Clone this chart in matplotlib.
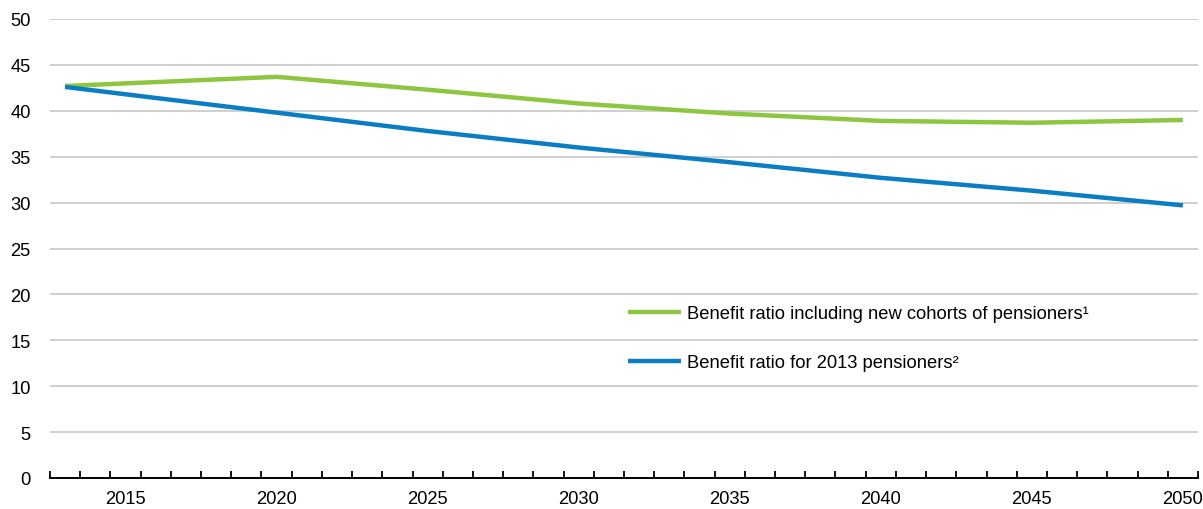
import matplotlib
matplotlib.use("Agg")
import matplotlib.pyplot as plt
from matplotlib.ticker import FixedLocator, MultipleLocator

plt.rcParams['font.family'] = ['Liberation Sans Narrow', 'Liberation Sans', 'DejaVu Sans']

# values (percent)
years = [2013, 2020, 2025, 2030, 2035, 2040, 2045, 2050]
new_cohorts = [42.7, 43.7, 42.3, 40.8, 39.7, 38.9, 38.7, 39.0]
pensioners_2013 = [42.6, 39.8, 37.8, 36.0, 34.4, 32.7, 31.3, 29.7]

label_new = "Benefit ratio including new cohorts of pensioners\u00b9"
label_2013 = "Benefit ratio for 2013 pensioners\u00b2"

GREEN = "#8dc63f"
BLUE = "#0b7dc3"
FS = 13.2

fig = plt.figure(figsize=(12.03, 5.10), dpi=100)
ax = fig.add_axes([50 / 1203, 31 / 510, 1148 / 1203, 459 / 510])

ax.plot(years, new_cohorts, color=GREEN, lw=3.2, label=label_new, solid_capstyle="butt")
ax.plot(years, pensioners_2013, color=BLUE, lw=3.2, label=label_2013, solid_capstyle="butt")

ax.set_xlim(2012.5, 2050.5)
ax.set_ylim(0, 50)
ax.yaxis.set_major_locator(MultipleLocator(5))
ax.grid(axis="y", color="#c8c8c8", lw=1.2)
ax.set_axisbelow(True)

# category-style x axis: boundary ticks between years, labels every 5 years
ax.xaxis.set_major_locator(FixedLocator(list(range(2015, 2051, 5))))
ax.xaxis.set_minor_locator(FixedLocator([y + 0.5 for y in range(2012, 2051)]))
ax.tick_params(axis="x", which="major", length=0, pad=9, labelsize=FS)
ax.tick_params(axis="x", which="minor", direction="in", length=5, width=1.3, color="black")
ax.tick_params(axis="y", length=0, pad=14, labelsize=FS)

for s in ("top", "right", "left"):
    ax.spines[s].set_visible(False)
ax.spines["bottom"].set_linewidth(1.4)
ax.spines["bottom"].set_color("black")

ax.legend(loc="center left", bbox_to_anchor=(0.5035, 0.305), frameon=False,
          fontsize=FS, handlelength=2.9, handletextpad=0.3, labelspacing=1.75,
          borderpad=0, borderaxespad=0)

fig.savefig("out.png", dpi=100)
